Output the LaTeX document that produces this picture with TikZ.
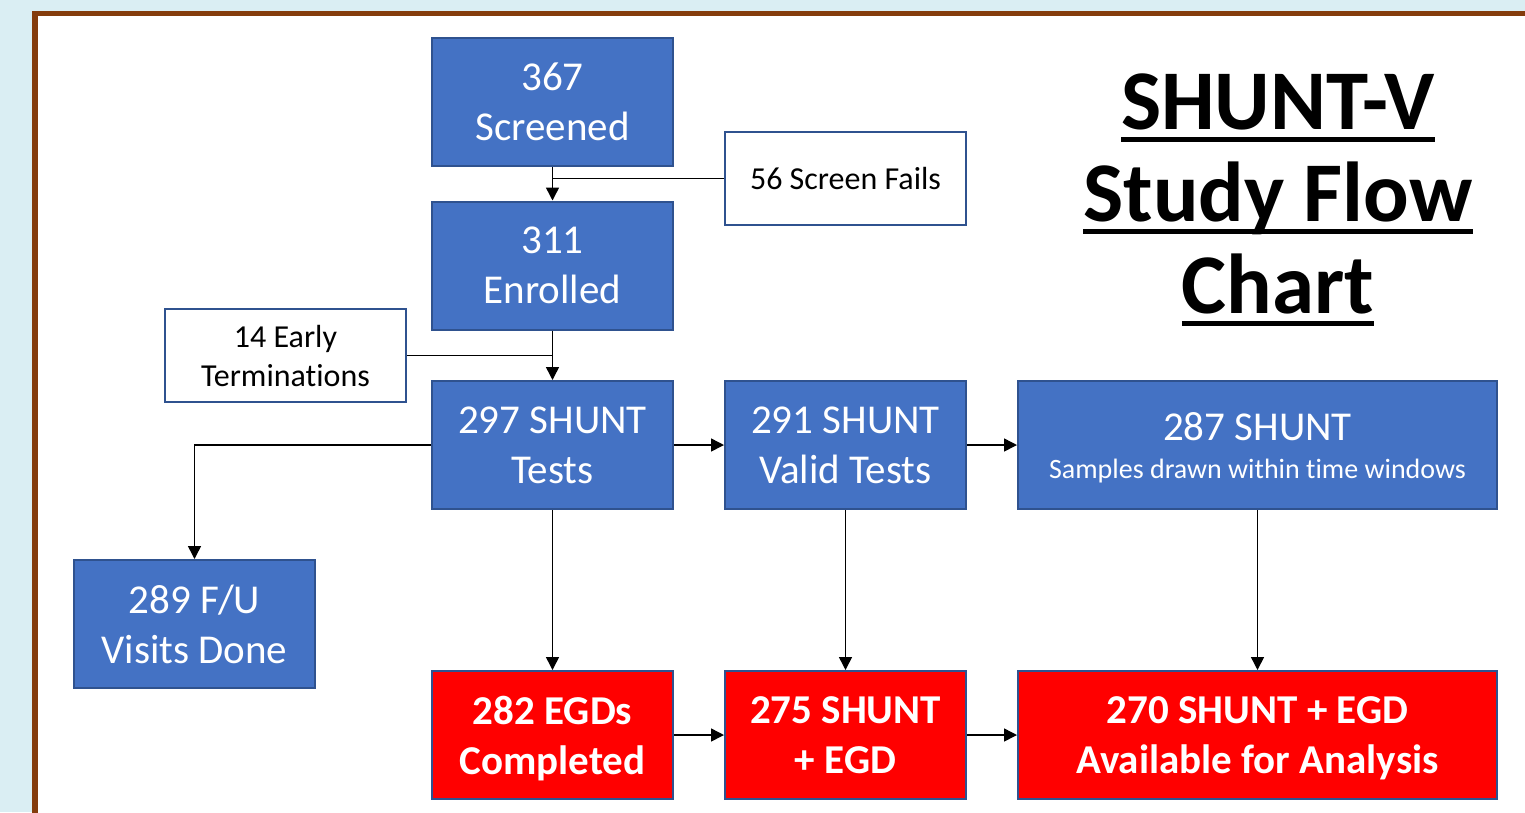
\documentclass[tikz,border=0pt]{standalone}
\usepackage{fontspec}
\setmainfont{Carlito}[Ligatures=NoCommon]
\usetikzlibrary{arrows.meta,positioning}
\definecolor{bgblue}{HTML}{DAEEF3}
\definecolor{framebrown}{HTML}{843C0C}
\definecolor{boxblue}{HTML}{4472C4}
\definecolor{edgeblue}{HTML}{2F528F}
\definecolor{boxred}{HTML}{FF0000}
\newcommand\tul[1]{\setbox0\hbox{#1}\rlap{\rule[-13pt]{\wd0}{5pt}}\box0}
\tikzset{
  bluebox/.style={draw=edgeblue, line width=2pt, fill=boxblue, text=white,
    minimum width=241pt, minimum height=128pt, inner sep=0pt, align=center,
    text depth=0pt,
    font=\fontsize{41}{50}\selectfont},
  redbox/.style={bluebox, fill=boxred, font=\bfseries\fontsize{41}{50}\selectfont},
  notebox/.style={draw=edgeblue, line width=2pt, fill=white, text=black,
    minimum width=241pt, minimum height=93pt, inner sep=0pt, align=center,
    text depth=0pt,
    font=\fontsize{32}{39}\selectfont},
  ln/.style={draw=black, line width=1.5pt},
  arr/.style={ln, -{Triangle[length=13pt,width=13pt]}}
}
\begin{document}
\begin{tikzpicture}[x=1pt,y=-1pt]
\useasboundingbox (0,0) rectangle (1525,812);
\fill[bgblue] (0,0) rectangle (1525,812);
\fill[framebrown] (32,11) rectangle (1545,830);
\fill[white] (38,16) rectangle (1545,830);

\node[bluebox] (scr) at (552.5,102) {367\\Screened};
\node[bluebox] (enr) at (552.5,265.5) {311\\Enrolled};
\node[notebox] (fails) at (845.5,178.5) {56 Screen Fails};
\node[notebox] (early) at (285.5,355.5) {14 Early\\Terminations};
\node[bluebox] (t297) at (552.5,445) {297 SHUNT\\Tests};
\node[bluebox] (t291) at (845.5,445) {291 SHUNT\\Valid Tests};
\node[bluebox, minimum width=479pt] (t287) at (1257.5,445)
  {287 SHUNT\\[-12pt]{\fontsize{28}{34}\selectfont Samples drawn within time windows}};
\node[bluebox] (fu) at (194.5,624) {289 F/U\\Visits Done};
\node[redbox] (egd) at (552.5,735) {282 EGDs\\Completed};
\node[redbox] (se) at (845.5,735) {275 SHUNT\\+ EGD};
\node[redbox, minimum width=479pt] (avail) at (1257.5,735) {270 SHUNT + EGD\\Available for Analysis};

\node[anchor=base, align=center, font=\bfseries\fontsize{85}{92}\selectfont] (title) at (1278,313)
  {\tul{SHUNT-V}\\\tul{Study Flow}\\\tul{Chart}};

\draw[arr] (scr) -- (enr);
\draw[ln] (fails.west) -- (fails.west -| scr.south);
\draw[arr] (enr) -- (t297);
\draw[ln] (early.east) -- (early.east -| enr.south);
\draw[arr] (t297.west) -| (fu.north);
\draw[arr] (t297) -- (t291);
\draw[arr] (t291) -- (t287);
\draw[arr] (t297) -- (egd);
\draw[arr] (t291) -- (se);
\draw[arr] (t287) -- (avail);
\draw[arr] (egd) -- (se);
\draw[arr] (se) -- (avail);
\end{tikzpicture}
\end{document}
